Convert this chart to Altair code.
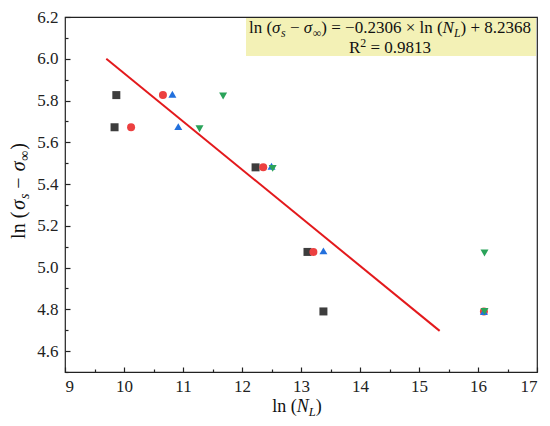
import altair as alt
import pandas as pd

# ---- data ----
series = ["S1", "S2", "S3", "S4"]
shapes = ["square", "circle", "triangle-up", "triangle-down"]
colors = ["#3d3d3d", "#ec4040", "#2270dd", "#2aa35a"]

s1_x = [9.87, 9.84, 12.23, 13.11, 13.38]
s1_y = [5.826, 5.672, 5.48, 5.075, 4.79]
s2_x = [10.66, 10.12, 12.36, 13.21, 16.10]
s2_y = [5.826, 5.672, 5.48, 5.075, 4.79]
s3_x = [10.82, 10.92, 12.50, 13.38, 16.10]
s3_y = [5.83, 5.675, 5.485, 5.08, 4.79]
s4_x = [11.68, 11.28, 12.52, 16.11, 16.11]
s4_y = [5.822, 5.665, 5.475, 5.07, 4.79]

fit_x = [9.70, 15.35]
fit_y = [6.000, 4.697]

x_major = [9, 10, 11, 12, 13, 14, 15, 16, 17]
x_minor = [9.5, 10.5, 11.5, 12.5, 13.5, 14.5, 15.5, 16.5]
y_major = [4.6, 4.8, 5.0, 5.2, 5.4, 5.6, 5.8, 6.0, 6.2]
y_minor = [4.5, 4.7, 4.9, 5.1, 5.3, 5.5, 5.7, 5.9, 6.1]

# rich-text pieces: (text, kind); kinds r=regular, i=italic, si=italic subscript,
# sr=regular subscript, up=superscript, gap=blank advance (em)
eq_line1 = [("ln (", "r"), ("σ", "i"), ("s", "si"), (0.25, "gap"), ("−", "r"), (0.25, "gap"),
            ("σ", "i"), ("∞", "sr"), (") = −0.2306 × ln (", "r"), ("N", "i"), ("L", "si"),
            (") + 8.2368", "r")]
eq_line2 = [("R", "r"), ("2", "up"), (0.25, "gap"), ("= 0.9813", "r")]
x_title = [("ln (", "r"), ("N", "i"), ("L", "si"), (")", "r")]
y_title = [("ln (", "r"), (0.1, "gap"), ("σ", "i"), ("s", "si"), (0.25, "gap"), ("−", "r"),
           (0.3, "gap"), ("σ", "i"), ("∞", "sr"), (0.05, "gap"), (")", "r")]

# ---- helpers for text layout (Times/Liberation Serif advance widths, em) ----
REG = {" ": 0.25, "(": 0.333, ")": 0.333, "l": 0.278, "n": 0.5, "=": 0.564, "−": 0.564,
       "×": 0.564, "+": 0.564, ".": 0.25, "R": 0.667, "∞": 0.713}
REG.update({d: 0.5 for d in "0123456789"})
ITA = {"N": 0.667, "L": 0.556, "s": 0.389, "σ": 0.53}


def rich_rows(pieces, size, anchor_along, anchor_base, center=True):
    rows, pos = [], 0.0
    for txt, kind in pieces:
        if kind == "gap":
            pos += txt * size
            continue
        fs = size * (0.7 if kind in ("si", "sr", "up") else 1.0)
        shift = {"si": 0.22, "sr": 0.22, "up": -0.38}.get(kind, 0.0) * size
        table = ITA if kind in ("i", "si") else REG
        w = sum(table.get(c, 0.5) for c in txt) * fs
        rows.append({"t": txt, "along": pos, "shift": shift, "fs": fs,
                     "style": "italic" if kind in ("i", "si") else "normal"})
        pos += w
    start = anchor_along - (pos / 2 if center else 0)
    for r in rows:
        r["along"] += start
        r["base"] = anchor_base + r["shift"]
    return pd.DataFrame(rows)


FONT = "Liberation Serif"
OX, OY = 65, 17  # page position of plot origin


def rich_text(df, angle=0, vertical=False):
    layers = []
    for style in ["normal", "italic"]:
        sub = df[df["style"] == style]
        if sub.empty:
            continue
        if vertical:
            enc = dict(x=alt.X("base:Q", scale=None, axis=None),
                       y=alt.Y("along:Q", scale=None, axis=None))
        else:
            enc = dict(x=alt.X("along:Q", scale=None, axis=None),
                       y=alt.Y("base:Q", scale=None, axis=None))
        layers.append(alt.Chart(sub).mark_text(
            font=FONT, fontStyle=style, color="#111", align="left",
            baseline="alphabetic", angle=angle
        ).encode(text="t:N", size=alt.Size("fs:Q", scale=None, legend=None), **enc))
    return layers


eq1_df = rich_rows(eq_line1, 17, 390 - OX, 33 - OY)
eq2_df = rich_rows(eq_line2, 17, 390 - OX, 53 - OY)
xt_df = rich_rows(x_title, 18, 297 - OX, 412 - OY)
# vertical title: reading upward -> negate along-axis positions
yt_df = rich_rows(y_title, 20, 0, 25 - OX)
yt_df["along"] = (191 - OY) - yt_df["along"]

# ---- data tables ----
rows = []
for name, xs, ys in zip(series, [s1_x, s2_x, s3_x, s4_x], [s1_y, s2_y, s3_y, s4_y]):
    for xv, yv in zip(xs, ys):
        rows.append({"series": name, "x": xv, "y": yv})
pts_df = pd.DataFrame(rows)
fit_df = pd.DataFrame({"x": fit_x, "y": fit_y})

xscale = alt.Scale(domain=[9, 17], nice=False, zero=False)
yscale = alt.Scale(domain=[4.5, 6.2], nice=False, zero=False)

points = alt.Chart(pts_df).mark_point(filled=True, opacity=1, size=64, strokeWidth=0).encode(
    x=alt.X("x:Q", scale=xscale,
            axis=alt.Axis(values=x_major, format="d", offset=-5, tickSize=5, tickColor="#222",
                          tickWidth=1.2, domain=False, grid=False, labelPadding=6, title=None,
                          orient="bottom")),
    y=alt.Y("y:Q", scale=yscale,
            axis=alt.Axis(values=y_major, format=".1f", offset=-5, tickSize=5, tickColor="#222",
                          tickWidth=1.2, domain=False, grid=False, labelPadding=7, title=None,
                          orient="left")),
    shape=alt.Shape("series:N", scale=alt.Scale(domain=series, range=shapes), legend=None),
    color=alt.Color("series:N", scale=alt.Scale(domain=series, range=colors), legend=None),
    order=alt.Order("series:N"),
)

line = alt.Chart(fit_df).mark_line(color="#e3191c", strokeWidth=2).encode(
    x=alt.X("x:Q", scale=xscale,
            axis=alt.Axis(values=x_minor, labels=False, offset=-3, tickSize=3, tickColor="#222",
                          tickWidth=1.2, domain=False, grid=False, title=None, orient="bottom")),
    y=alt.Y("y:Q", scale=yscale,
            axis=alt.Axis(values=y_minor, labels=False, offset=-3, tickSize=3, tickColor="#222",
                          tickWidth=1.2, domain=False, grid=False, title=None, orient="left")),
)

box = alt.Chart(pd.DataFrame({"a": [0]})).mark_rect(color="#f3f1b6").encode(
    x=alt.value(246 - OX), x2=alt.value(471), y=alt.value(1), y2=alt.value(56 - OY)
)

text_layers = (rich_text(eq1_df) + rich_text(eq2_df) + rich_text(xt_df)
               + rich_text(yt_df, angle=270, vertical=True))

chart = alt.layer(box, *text_layers, line, points).resolve_axis(
    x="independent", y="independent"
).properties(
    width=472, height=355,
    autosize=alt.AutoSizeParams(type="none"),
    padding={"left": 57, "top": 9, "right": 5, "bottom": 46},
).configure_view(
    stroke="#222", strokeWidth=1.2
).configure_axis(
    labelFont=FONT, labelFontSize=17, labelColor="#222",
)

chart.save("out.html", embed_options={"renderer": "svg", "actions": False})
